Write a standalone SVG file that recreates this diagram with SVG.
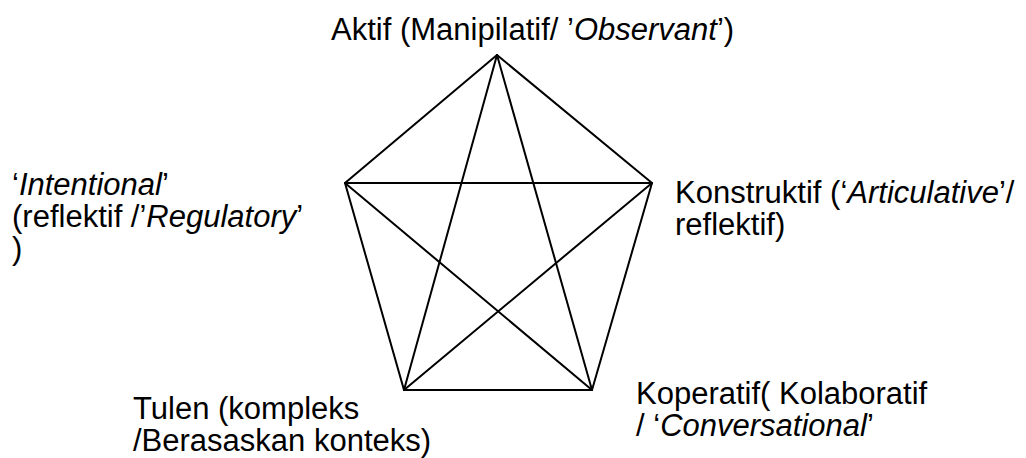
<svg xmlns="http://www.w3.org/2000/svg" width="1026" height="458" viewBox="0 0 1026 458">
<style>
text { font-family: "Liberation Sans", Arial, sans-serif; font-size: 31px; fill: #000; }
.i { font-style: italic; }
.edge { stroke: #000; stroke-width: 2; fill: none; stroke-linecap: round; }
</style>
<rect width="1026" height="458" fill="#fff"/>
<g id="connectors">
<line class="edge" x1="497" y1="55" x2="345" y2="183"/>
<line class="edge" x1="497" y1="55" x2="652" y2="183"/>
<line class="edge" x1="345" y1="183" x2="404" y2="390"/>
<line class="edge" x1="652" y1="183" x2="592" y2="390"/>
<line class="edge" x1="404" y1="390" x2="592" y2="390"/>
<line class="edge" x1="345" y1="183" x2="652" y2="183"/>
<line class="edge" x1="497" y1="55" x2="404" y2="390"/>
<line class="edge" x1="497" y1="55" x2="592" y2="390"/>
<line class="edge" x1="345" y1="183" x2="592" y2="390"/>
<line class="edge" x1="652" y1="183" x2="404" y2="390"/>
</g>
<g id="node-aktif"><text x="331" y="40">Aktif (Manipilatif/ ’<tspan class="i">Observant</tspan>’)</text></g>
<g id="node-intentional"><text x="12" y="195">‘<tspan class="i">Intentional</tspan>’</text><text x="12" y="227">(reflektif /’<tspan class="i">Regulatory</tspan>’</text><text x="12" y="259">)</text></g>
<g id="node-konstruktif"><text x="675" y="203">Konstruktif (‘<tspan class="i">Articulative</tspan>’/</text><text x="675" y="235">reflektif)</text></g>
<g id="node-tulen"><text x="133" y="419">Tulen (kompleks</text><text x="133" y="451">/Berasaskan konteks)</text></g>
<g id="node-koperatif"><text x="636" y="404">Koperatif( Kolaboratif</text><text x="636" y="436">/ ‘<tspan class="i">Conversational</tspan>’</text></g>
</svg>
